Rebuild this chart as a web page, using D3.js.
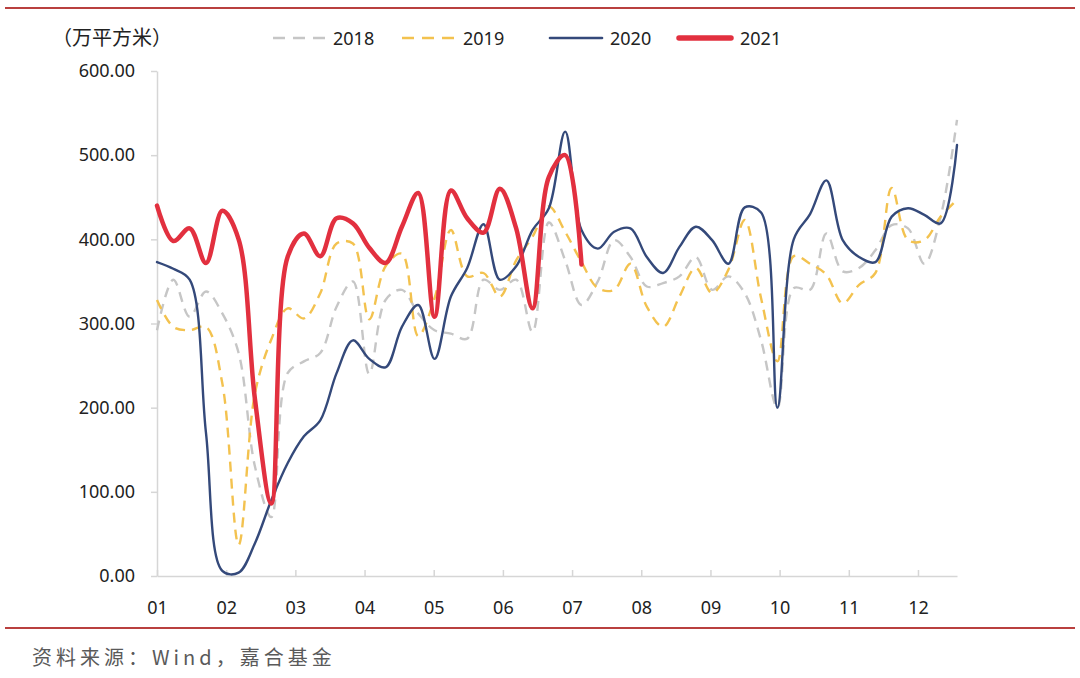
<!DOCTYPE html>
<html><head><meta charset="utf-8">
<script src="https://cdn.jsdelivr.net/npm/d3@7"></script>
<style>
body{margin:0;background:#fff}
svg{display:block;font-family:"Noto Sans CJK SC","Noto Sans",sans-serif}
</style>
</head><body>
<svg id="chart" width="1080" height="678"></svg>
<script>
// ---- data ----
const monthLabels = ["01","02","03","04","05","06","07","08","09","10","11","12"];
const yTickValues = [0,100,200,300,400,500,600];
const unitLabel = "（万平方米）";
const sourceText = "资料来源：Wind，嘉合基金";
const seriesNames = ["2018","2019","2020","2021"];
const weekStep = 0.236; // months between weekly observations

const v2018 = [292,352,308,338,312,265,130,70,241,255,265,320,350,240,328,340,312,292,288,282,352,340,352,290,420,375,322,350,399,379,344,348,356,379,340,356,336,280,200,342,340,407,362,366,387,417,413,371,427,542];
const v2019 = [328,296,292,296,229,37,217,281,318,306,336,395,395,305,368,383,285,330,411,356,360,332,375,403,439,409,373,342,340,371,320,296,332,366,336,364,423,330,255,380,371,358,324,346,360,461,399,399,427,447];
const v2020 = [373,365,352,170,6,4,39,90,134,166,185,241,280,258,248,296,322,258,332,366,418,352,368,411,437,528,411,389,409,413,379,360,391,415,399,371,438,432,200,400,430,470,399,379,373,427,437,429,419,512];
const v2021 = [440,398,413,372,434,400,210,86,379,407,380,425,419,390,372,415,455,308,458,425,408,460,413,318,474,500,370];

const seriesValues = [v2018, v2019, v2020, v2021];
const seriesColors = ["#c6c6c6", "#f3c24f", "#34497a", "#e2303f"];
const seriesWidths = [2.4, 2.4, 2.4, 4.5];
const seriesDash = ["10,7", "10,7", null, null];

// ---- chart ----
const svg = d3.select("#chart");
svg.append("rect").attr("width",1080).attr("height",678).attr("fill","#fff");

const x = d3.scaleLinear().domain([1, 1 + 49*weekStep]).range([157, 957]);
const y = d3.scaleLinear().domain([0, 600]).range([576, 71]);

// separators
svg.append("line").attr("x1",5).attr("x2",1075).attr("y1",8).attr("y2",8)
  .attr("stroke","#b9403f").attr("stroke-width",2);
svg.append("line").attr("x1",5).attr("x2",1075).attr("y1",628).attr("y2",628)
  .attr("stroke","#b9403f").attr("stroke-width",2);

// y axis
const yAxis = d3.axisLeft(y).tickValues(yTickValues).tickFormat(d3.format(".2f"))
  .tickSizeInner(6).tickSizeOuter(0).tickPadding(16);
const gy = svg.append("g").attr("transform","translate(157,0)").call(yAxis);
gy.select(".domain").attr("stroke","#d6d6d6").attr("stroke-width",1.5);
gy.selectAll(".tick line").attr("stroke","#d6d6d6").attr("stroke-width",1.5);
gy.selectAll(".tick text").attr("fill","#222").style("font-size","18px")
  .style("font-family","'Noto Sans','Noto Sans CJK SC',sans-serif");

// x axis
const xAxis = d3.axisBottom(x).tickValues(d3.range(1,13))
  .tickFormat((d,i)=>monthLabels[i]).tickSizeInner(-6).tickSizeOuter(0).tickPadding(25);
const gx = svg.append("g").attr("transform","translate(0,576)").call(xAxis);
gx.select(".domain").attr("stroke","#d6d6d6").attr("stroke-width",1.5);
gx.selectAll(".tick line").attr("stroke","#d6d6d6").attr("stroke-width",1.5);
gx.selectAll(".tick text").attr("fill","#222").style("font-size","18px")
  .style("font-family","'Noto Sans','Noto Sans CJK SC',sans-serif");

// lines
const line = d3.line()
  .x((d,i)=>x(1 + i*weekStep))
  .y(d=>y(d))
  .curve(d3.curveCatmullRom.alpha(0.5));

seriesValues.forEach((vals, k) => {
  svg.append("path").datum(vals)
    .attr("fill","none")
    .attr("stroke", seriesColors[k])
    .attr("stroke-width", seriesWidths[k])
    .attr("stroke-linejoin","round")
    .attr("stroke-linecap", seriesDash[k] ? "butt" : "round")
    .attr("stroke-dasharray", seriesDash[k])
    .attr("d", line);
});

// unit label
svg.append("text").attr("x",52).attr("y",45).text(unitLabel)
  .attr("fill","#222").style("font-size","20px");

// legend
const legendPos = [[273,333],[402,463],[550,610],[679,740]];
const legendDash = ["12,8","12,8",null,null];
const legendWidths = [2.6, 2.6, 2.6, 5.5];
seriesNames.forEach((name,k) => {
  const [lx, tx] = legendPos[k];
  svg.append("line").attr("x1",lx).attr("x2",lx+52).attr("y1",38).attr("y2",38)
    .attr("stroke",seriesColors[k]).attr("stroke-width",legendWidths[k])
    .attr("stroke-dasharray",legendDash[k])
    .attr("stroke-linecap", legendDash[k] ? "butt" : "round");
  svg.append("text").attr("x",tx).attr("y",44.5).text(name)
    .attr("fill","#222").style("font-size","18px")
    .style("font-family","'Noto Sans','Noto Sans CJK SC',sans-serif");
});

// source
svg.append("text").attr("x",32).attr("y",665).text(sourceText)
  .attr("fill","#5a5a5a").style("font-size","20px").style("letter-spacing","4px");
</script>
</body></html>
